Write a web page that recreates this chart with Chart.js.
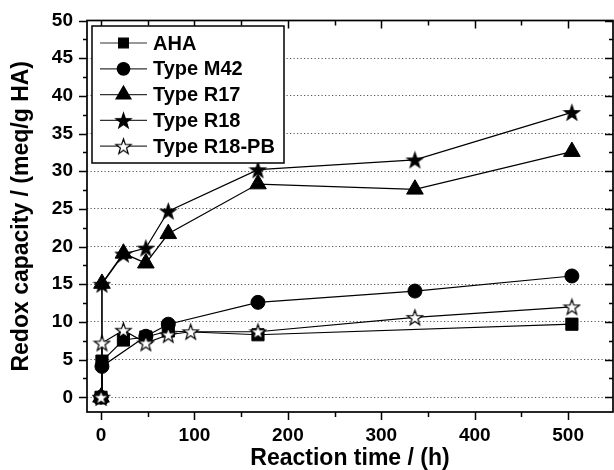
<!DOCTYPE html>
<html>
<head>
<meta charset="utf-8">
<script src="https://cdn.jsdelivr.net/npm/chart.js@4/dist/chart.umd.min.js"></script>
<style>
  html, body { margin: 0; padding: 0; background: #fff; }
  #wrap { width: 614px; height: 470px; }
</style>
</head>
<body>
<div id="wrap"><canvas id="redox" width="614" height="470"></canvas></div>
<script>
// reaction time (h) and redox capacity (meq/g HA)
var timeAHA = [0, 1, 24, 48, 72, 168, 504];
var valAHA = [0, 4.8, 7.6, 8.0, 8.8, 8.3, 9.7];
var timeM42 = [0, 1, 48, 72, 168, 336, 504];
var valM42 = [0, 4.1, 8.1, 9.7, 12.6, 14.1, 16.1];
var timeR17 = [0, 1, 24, 48, 72, 168, 336, 504];
var valR17 = [0, 15.1, 19.1, 17.8, 21.7, 28.3, 27.6, 32.6];
var timeR18 = [0, 1, 24, 48, 72, 168, 336, 504];
var valR18 = [0, 15.0, 19.0, 19.8, 24.7, 30.2, 31.5, 37.8];
var timeR18PB = [0, 1, 24, 48, 72, 96, 168, 336, 504];
var valR18PB = [0, 7.2, 8.9, 7.2, 8.3, 8.7, 8.7, 10.6, 12.0];

var seriesNames = ['AHA', 'Type M42', 'Type R17', 'Type R18', 'Type R18-PB'];
var xTicks = [0, 100, 200, 300, 400, 500];
var yTicks = [0, 5, 10, 15, 20, 25, 30, 35, 40, 45, 50];

function pts(xs, ys) {
    var out = [];
    for (var i = 0; i < xs.length; i++) out.push({ x: xs[i], y: ys[i] });
    return out;
}

// star markers (Chart.js 'star' is an asterisk, so draw a real one)
function makeStar(filled, ro) {
    var c = document.createElement('canvas');
    c.width = 19; c.height = 19;
    var g = c.getContext('2d');
    var cx = 9.5, cy = 10.2, ri = ro * 0.4;
    g.beginPath();
    for (var i = 0; i < 10; i++) {
        var r = i % 2 ? ri : ro;
        var a = -Math.PI / 2 + i * Math.PI / 5;
        var px = cx + r * Math.cos(a), py = cy + r * Math.sin(a);
        if (i == 0) g.moveTo(px, py); else g.lineTo(px, py);
    }
    g.closePath();
    g.fillStyle = filled ? '#000' : '#fff';
    g.fill();
    g.lineWidth = 1.2;
    g.strokeStyle = '#000';
    g.stroke();
    return c;
}
var starFull = makeStar(true, 8);
var starOpen = makeStar(false, 8);

var styles = [
    { pointStyle: 'rect', radius: 8.6 },
    { pointStyle: 'circle', radius: 7 },
    { pointStyle: 'triangle', radius: 9.6 },
    { pointStyle: starFull, radius: 9 },
    { pointStyle: starOpen, radius: 9 }
];

function ds(i, data, order) {
    return {
        label: seriesNames[i],
        data: data,
        order: order,
        borderColor: '#000',
        borderWidth: 1.2,
        backgroundColor: '#000',
        pointStyle: styles[i].pointStyle,
        pointRadius: styles[i].radius,
        pointHoverRadius: styles[i].radius,
        pointBorderWidth: 1,
        pointBackgroundColor: '#000',
        pointBorderColor: '#000',
        tension: 0,
        fill: false
    };
}

// frame + minor/major ticks on all four sides
var frameTicks = {
    id: 'frameTicks',
    afterDatasetsDraw: function (chart) {
        var ctx = chart.ctx, a = chart.chartArea;
        var xs = chart.scales.x, ys = chart.scales.y;
        ctx.save();
        ctx.strokeStyle = '#000';
        ctx.lineWidth = 1.7;
        ctx.strokeRect(a.left, a.top, a.right - a.left, a.bottom - a.top);
        ctx.lineWidth = 1.5;
        ctx.beginPath();
        for (var t = 0; t <= 500; t += 50) {
            var px = Math.round(xs.getPixelForValue(t)) + 0.5;
            var len = t % 100 == 0 ? 8 : 5;
            ctx.moveTo(px, a.bottom); ctx.lineTo(px, a.bottom + len);
            ctx.moveTo(px, a.top); ctx.lineTo(px, a.top + len);
        }
        for (var v = 0; v <= 50; v += 2.5) {
            var py = Math.round(ys.getPixelForValue(v)) + 0.5;
            var l2 = v % 5 == 0 ? 8 : 4;
            ctx.moveTo(a.left, py); ctx.lineTo(a.left - l2, py);
            ctx.moveTo(a.right, py); ctx.lineTo(a.right - l2, py);
        }
        ctx.stroke();
        ctx.restore();
    }
};

// boxed legend with line-through-marker samples
var boxLegend = {
    id: 'boxLegend',
    afterDraw: function (chart) {
        var ctx = chart.ctx;
        var bx = 92, by = 26, bw = 192, bh = 137;
        ctx.save();
        ctx.fillStyle = '#fff';
        ctx.fillRect(bx, by, bw, bh);
        ctx.strokeStyle = '#000';
        ctx.lineWidth = 1.5;
        ctx.strokeRect(bx, by, bw, bh);
        ctx.font = 'bold 20px "Liberation Sans", Arial, sans-serif';
        ctx.textBaseline = 'middle';
        ctx.fillStyle = '#000';
        for (var i = 0; i < seriesNames.length; i++) {
            var y = 43 + i * 25.8;
            ctx.lineWidth = 1.2;
            ctx.strokeStyle = '#333';
            ctx.beginPath();
            ctx.moveTo(100, y); ctx.lineTo(147, y);
            ctx.stroke();
            ctx.strokeStyle = '#000';
            Chart.helpers.drawPoint(ctx, {
                pointStyle: styles[i].pointStyle,
                radius: styles[i].radius * (i == 0 ? 0.8 : 0.9),
                rotation: 0,
                borderWidth: 1
            }, 123.5, y);
            ctx.fillStyle = '#000';
            ctx.fillText(seriesNames[i], 153, y + 1);
        }
        ctx.restore();
    }
};

var tickFont = { family: '"Liberation Sans", Arial, sans-serif', size: 19, weight: 'bold' };

new Chart(document.getElementById('redox').getContext('2d'), {
    type: 'line',
    data: {
        datasets: [
            ds(0, pts(timeAHA, valAHA), 4),
            ds(1, pts(timeM42, valM42), 3),
            ds(2, pts(timeR17, valR17), 2),
            ds(3, pts(timeR18, valR18), 1),
            ds(4, pts(timeR18PB, valR18PB), 0)
        ]
    },
    options: {
        responsive: false,
        animation: false,
        layout: { autoPadding: false, padding: { top: 20.5, right: 1, left: 0, bottom: 0 } },
        plugins: { legend: { display: false }, tooltip: { enabled: false } },
        scales: {
            x: {
                type: 'linear',
                min: -15,
                max: 548,
                afterBuildTicks: function (s) { s.ticks = xTicks.map(function (v) { return { value: v }; }); },
                afterFit: function (s) { s.height = 58; s.paddingLeft = 0; s.paddingRight = 0; },
                grid: { display: false, drawTicks: false },
                border: { display: false },
                ticks: { color: '#000', font: tickFont, padding: 12, maxRotation: 0 },
                title: {
                    display: true, text: 'Reaction time / (h)', color: '#000',
                    font: { family: '"Liberation Sans", Arial, sans-serif', size: 23, weight: 'bold', lineHeight: 1 },
                    padding: { top: 1, bottom: 0 }
                }
            },
            y: {
                type: 'linear',
                min: -1.95,
                max: 50,
                afterBuildTicks: function (s) { s.ticks = yTicks.map(function (v) { return { value: v }; }); },
                afterFit: function (s) { s.width = 87; s.paddingTop = 0; s.paddingBottom = 0; },
                grid: {
                    drawTicks: false,
                    lineWidth: 1,
                    color: function (c) { return c.tick && c.tick.value < 50 ? '#555' : 'rgba(0,0,0,0)'; }
                },
                border: { display: false, dash: [1.2, 2.3] },
                ticks: { color: '#000', font: tickFont, padding: 14 },
                title: {
                    display: true, text: 'Redox capacity / (meq/g HA)', color: '#000',
                    font: { family: '"Liberation Sans", Arial, sans-serif', size: 23, weight: 'bold', lineHeight: 1 },
                    padding: { top: 10, bottom: 0 }
                }
            }
        }
    },
    plugins: [frameTicks, boxLegend]
});
</script>
</body>
</html>
